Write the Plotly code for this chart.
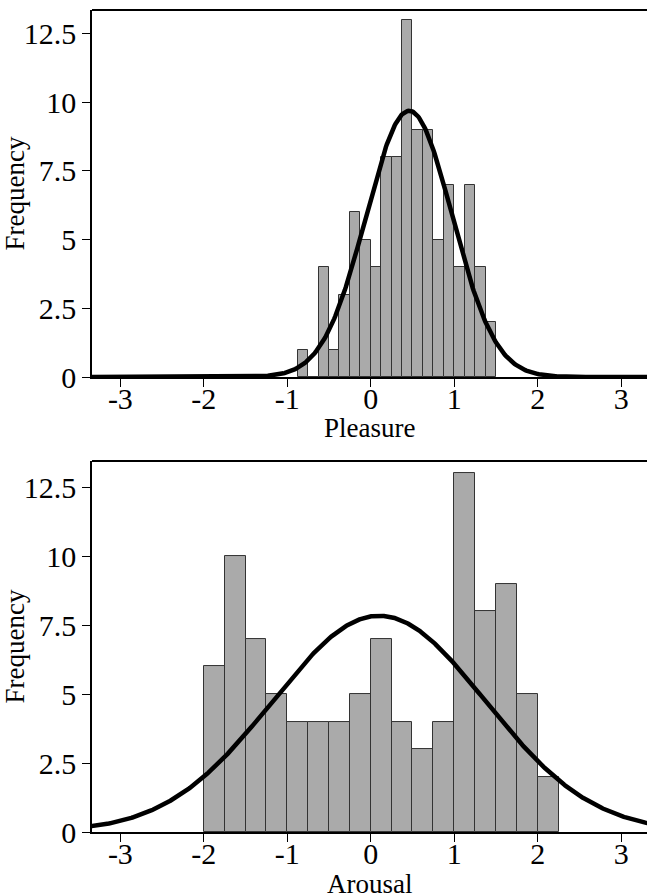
import numpy as np
import plotly.graph_objects as go
from plotly.subplots import make_subplots

# Pleasure histogram (bin width 0.125)
pleasure_bin_start = -0.875
pleasure_bin_width = 0.125
pleasure_counts = [1, 0, 4, 1, 3, 6, 5, 4, 8, 8, 13, 9, 9, 5, 7, 4, 7, 4, 2]
pleasure_mean = 0.46
pleasure_sd = 0.515

# Arousal histogram (bin width 0.25)
arousal_bin_start = -2.0
arousal_bin_width = 0.25
arousal_counts = [6, 10, 7, 5, 4, 4, 4, 5, 7, 4, 3, 4, 13, 8, 9, 5, 2]
arousal_mean = 0.10
arousal_sd = 1.272

x_ticks = [-3, -2, -1, 0, 1, 2, 3]
y_ticks = [0, 2.5, 5, 7.5, 10, 12.5]
y_ticklabels = ["0", "2.5", "5", "7.5", "10", "12.5"]

FONT = "Liberation Serif, Times New Roman, serif"
TICK_FS = 30
TITLE_FS = 27
BAR_FILL = "#aaaaaa"
BAR_LINE = "#333333"

fig = make_subplots(rows=2, cols=1, vertical_spacing=0.1)


def add_panel(row, start, width, counts, mean, sd):
    centers = [start + width * (i + 0.5) for i in range(len(counts))]
    fig.add_trace(go.Bar(x=centers, y=counts, width=[width] * len(counts),
                         marker=dict(color=BAR_FILL, line=dict(color=BAR_LINE, width=1)),
                         showlegend=False), row=row, col=1)
    n = sum(counts)
    xs = np.linspace(-3.5, 3.5, 600)
    ys = n * width / (sd * np.sqrt(2 * np.pi)) * np.exp(-0.5 * ((xs - mean) / sd) ** 2)
    fig.add_trace(go.Scatter(x=xs, y=ys, mode="lines",
                             line=dict(color="black", width=4.5),
                             showlegend=False), row=row, col=1)


add_panel(1, pleasure_bin_start, pleasure_bin_width, pleasure_counts, pleasure_mean, pleasure_sd)
add_panel(2, arousal_bin_start, arousal_bin_width, arousal_counts, arousal_mean, arousal_sd)

axis_common = dict(showgrid=False, zeroline=False, showline=True, linecolor="black",
                   linewidth=1.5, ticks="outside", tickcolor="black", ticklen=8,
                   tickwidth=1, automargin=False,
                   tickfont=dict(family=FONT, size=TICK_FS, color="black"))

fig.update_xaxes(**axis_common, range=[-3.34, 3.31], tickvals=x_ticks,
                 ticktext=[str(t) for t in x_ticks], mirror=False, ticklabelstandoff=-14)
fig.update_yaxes(**axis_common, tickvals=y_ticks, ticktext=y_ticklabels)

fig.update_yaxes(title=dict(text="Frequency", font=dict(family=FONT, size=TITLE_FS, color="black"), standoff=4))

fig.update_yaxes(range=[0, 13.35], domain=[0.5535, 1.0], row=1, col=1)
fig.update_yaxes(range=[0, 13.45], domain=[0.0, 0.4513], row=2, col=1)

# x-axis titles
for xref, yref, text, shift in [("x domain", "y domain", "Pleasure", -34),
                                ("x2 domain", "y2 domain", "Arousal", -35)]:
    fig.add_annotation(xref=xref, yref=yref, x=0.5, y=0, xanchor="center", yanchor="top",
                       yshift=shift, text=text, showarrow=False,
                       font=dict(family=FONT, size=TITLE_FS, color="black"))

# top border lines
for yref in ["y domain", "y2 domain"]:
    xref = "x domain" if yref == "y domain" else "x2 domain"
    fig.add_shape(type="line", xref=xref, yref=yref, x0=0, x1=1, y0=1, y1=1,
                  line=dict(color="black", width=2))

fig.update_layout(width=647, height=893, margin=dict(l=92, r=0, t=10, b=61),
                  paper_bgcolor="white", plot_bgcolor="white", bargap=0,
                  font=dict(family=FONT, size=TITLE_FS, color="black"))

fig.write_html("out.html")
